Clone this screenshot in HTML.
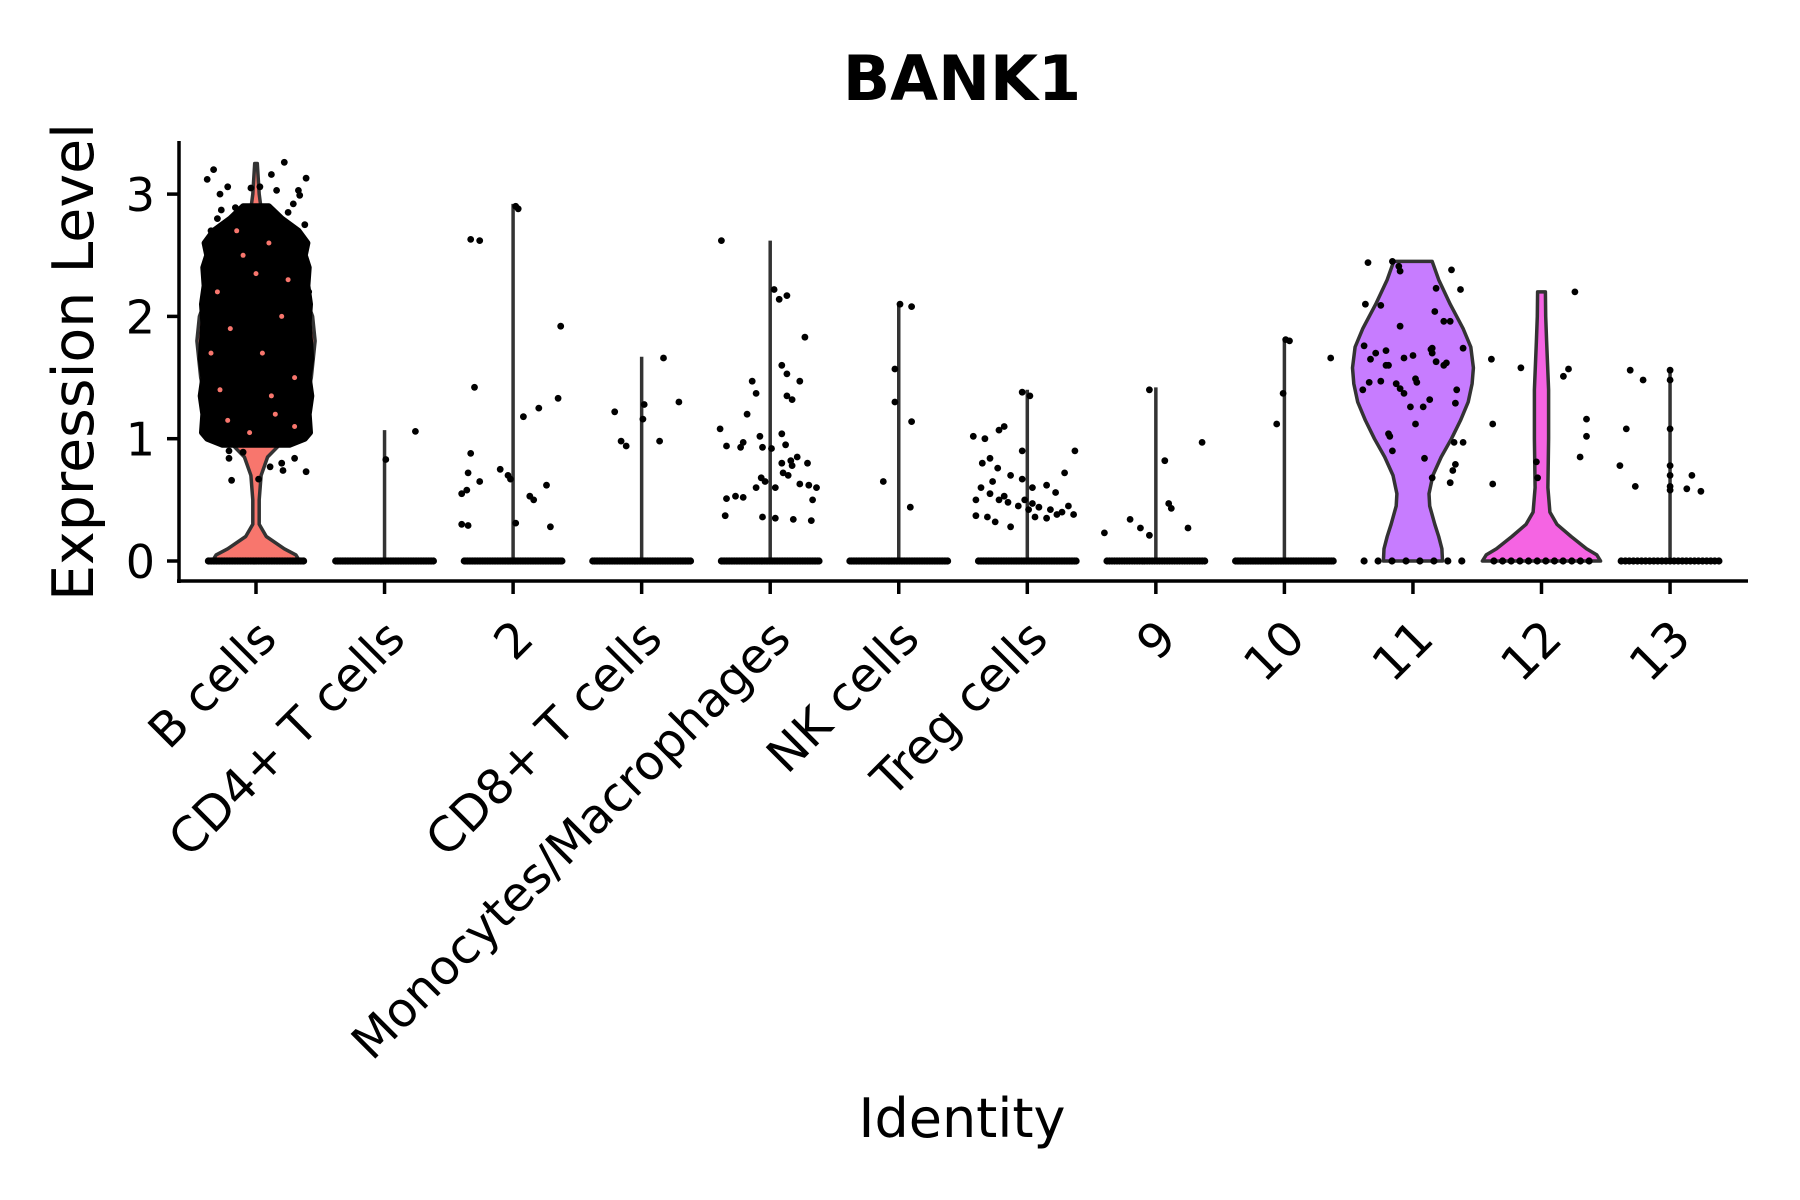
<!DOCTYPE html>
<html><head><meta charset="utf-8">
<style>
html,body{margin:0;padding:0;background:#fff;}
svg{display:block;font-family:"DejaVu Sans","Liberation Sans",sans-serif;}
</style></head>
<body>
<svg id="chart" width="1800" height="1200" viewBox="0 0 1800 1200">
<rect width="1800" height="1200" fill="#fff"/>
<text x="962" y="100" font-size="62" font-weight="bold" text-anchor="middle">BANK1</text>
<text transform="translate(93,362) rotate(-90)" font-size="57" text-anchor="middle">Expression Level</text>
<text x="962" y="1137" font-size="54" text-anchor="middle">Identity</text>
<g id="plot"></g>
</svg>
<script>
const categories = ["B cells","CD4+ T cells","2","CD8+ T cells","Monocytes/Macrophages","NK cells","Treg cells","9","10","11","12","13"];
const yTicks = [0,1,2,3];
const fillColors = ["#F8766D",null,null,null,null,null,null,null,null,"#C77CFF","#F564E3",null];
const lineMax = [3.25,1.07,2.92,1.67,2.62,2.1,1.4,1.42,1.81,2.45,2.2,1.57];
const profB = [[0,0.34],[0.05,0.31],[0.1,0.22],[0.2,0.08],[0.3,0.025],[0.5,0.025],[0.7,0.04],[0.85,0.09],[1.0,0.23],[1.2,0.37],[1.5,0.43],[1.8,0.46],[2.0,0.44],[2.2,0.37],[2.4,0.16],[2.6,0.08],[2.8,0.05],[3.0,0.025],[3.25,0.01]];
const prof11 = [[0,0.23],[0.1,0.225],[0.2,0.2],[0.3,0.17],[0.45,0.13],[0.55,0.125],[0.7,0.155],[0.85,0.22],[1.0,0.3],[1.15,0.37],[1.3,0.43],[1.45,0.46],[1.58,0.47],[1.75,0.45],[1.9,0.39],[2.1,0.29],[2.3,0.2],[2.45,0.15]];
const prof12 = [[0,0.46],[0.05,0.43],[0.1,0.35],[0.2,0.23],[0.3,0.12],[0.4,0.065],[0.6,0.05],[1.0,0.055],[1.4,0.055],[1.8,0.04],[2.0,0.033],[2.2,0.03]];
// dense B-cell point cloud outline: [value, half-width]
const denseB = [[0.95,0.26],[1.0,0.38],[1.05,0.42],[1.2,0.41],[1.35,0.43],[1.5,0.41],[1.65,0.43],[1.8,0.42],[1.95,0.41],[2.1,0.42],[2.25,0.4],[2.4,0.41],[2.5,0.38],[2.6,0.4],[2.7,0.33],[2.8,0.2],[2.9,0.1]];
// salmon gaps visible inside the dense cloud: [jitter, value]
const gapsB = [[-0.3,2.2],[-0.1,2.5],[0.1,2.6],[0.25,2.3],[-0.2,1.9],[0.05,1.7],[0.3,1.5],[-0.28,1.4],[0.15,1.2],[-0.05,1.05],[0.3,1.1],[-0.15,2.7],[0.2,2.0],[-0.35,1.7],[0.0,2.35],[0.12,1.35],[-0.22,1.15]];
const zeroCount = [60,60,60,60,60,60,60,40,60,8,12,25];
const zeroSpread = [0.37,0.38,0.38,0.38,0.38,0.38,0.38,0.38,0.38,0.38,0.37,0.38];
const pts0 = [[-0.33,3.2],[-0.38,3.12],[0.22,3.26],[0.12,3.16],[0.39,3.13],[-0.22,3.06],[-0.28,3.0],[-0.04,3.05],[0.03,3.06],[0.16,3.03],[0.34,2.99],[0.33,3.03],[-0.16,2.89],[-0.27,2.87],[0.29,2.92],[-0.21,0.84],[-0.19,0.66],[0.02,0.67],[0.11,0.77],[0.21,0.74],[0.39,0.73],[0.2,0.8],[0.3,0.84],[-0.21,0.9],[-0.1,0.89],[-0.35,2.7],[0.38,2.75],[-0.37,1.05],[0.36,1.0],[-0.4,2.4],[0.41,2.2],[-0.41,1.3],[0.4,1.6],[-0.3,2.8],[0.25,2.85]];
const pts1 = [[0.01,0.83],[0.24,1.06]];
const pts2 = [[-0.33,2.63],[-0.26,2.62],[0.02,2.9],[0.04,2.88],[-0.3,1.42],[0.37,1.92],[0.08,1.18],[0.2,1.25],[0.35,1.33],[-0.33,0.88],[-0.35,0.72],[-0.26,0.65],[-0.4,0.55],[-0.36,0.58],[-0.04,0.7],[-0.02,0.67],[0.13,0.53],[0.16,0.5],[0.26,0.62],[-0.4,0.3],[-0.35,0.29],[0.02,0.31],[0.29,0.28],[-0.1,0.75]];
const pts3 = [[-0.21,1.22],[-0.16,0.98],[-0.12,0.94],[0.01,1.16],[0.02,1.28],[0.17,1.66],[0.14,0.98],[0.29,1.3]];
const pts4 = [[-0.38,2.62],[0.03,2.22],[0.07,2.14],[0.13,2.17],[0.27,1.83],[0.09,1.6],[0.13,1.53],[0.13,1.35],[0.17,1.32],[0.23,1.47],[-0.14,1.47],[-0.11,1.37],[-0.18,1.2],[-0.39,1.08],[-0.34,0.94],[-0.23,0.93],[-0.21,0.97],[-0.08,1.02],[-0.06,0.93],[0.01,0.92],[0.09,1.04],[0.12,0.95],[0.21,0.85],[0.29,0.8],[0.17,0.78],[0.1,0.72],[0.14,0.7],[0.04,0.6],[-0.04,0.65],[-0.11,0.6],[-0.21,0.52],[-0.27,0.53],[-0.34,0.51],[-0.35,0.37],[-0.06,0.36],[0.04,0.35],[0.18,0.34],[0.32,0.33],[0.33,0.5],[0.36,0.6],[-0.07,0.68],[0.23,0.63],[0.3,0.62],[0.09,0.8],[0.16,0.82]];
const pts5 = [[0.01,2.1],[0.1,2.08],[-0.03,1.57],[-0.03,1.3],[0.1,1.14],[-0.12,0.65],[0.09,0.44]];
const pts6 = [[-0.42,1.02],[-0.33,1.0],[-0.22,1.07],[-0.18,1.1],[-0.04,1.38],[0.02,1.35],[-0.35,0.8],[-0.29,0.84],[-0.23,0.76],[-0.13,0.7],[-0.04,0.67],[0.04,0.6],[0.15,0.62],[0.22,0.56],[0.37,0.9],[0.29,0.72],[-0.36,0.6],[-0.29,0.55],[-0.22,0.5],[-0.15,0.48],[-0.07,0.45],[0.01,0.42],[0.09,0.44],[0.18,0.42],[0.27,0.4],[0.36,0.38],[-0.4,0.37],[-0.31,0.36],[-0.25,0.32],[-0.13,0.28],[-0.02,0.5],[0.06,0.36],[0.15,0.35],[0.23,0.38],[0.32,0.45],[0.04,0.47],[-0.18,0.53],[-0.27,0.65],[-0.04,0.9],[-0.4,0.5]];
const pts7 = [[-0.4,0.23],[-0.2,0.34],[-0.12,0.27],[-0.05,0.21],[-0.05,1.4],[0.07,0.82],[0.1,0.47],[0.12,0.43],[0.36,0.97],[0.25,0.27]];
const pts8 = [[-0.06,1.12],[-0.01,1.37],[0.04,1.8],[0.36,1.66],[0.01,1.81]];
const pts9 = [[-0.35,2.44],[-0.16,2.45],[-0.11,2.41],[-0.1,2.37],[0.3,2.38],[0.37,2.22],[0.18,2.23],[-0.37,2.1],[-0.25,2.09],[0.17,2.04],[0.24,1.96],[0.29,1.96],[-0.1,1.92],[-0.38,1.76],[-0.21,1.72],[-0.29,1.7],[-0.33,1.65],[-0.07,1.66],[0,1.68],[0.14,1.73],[0.15,1.74],[0.15,1.7],[0.18,1.63],[0.26,1.62],[0.24,1.6],[0.39,1.74],[-0.21,1.6],[-0.19,1.6],[-0.34,1.46],[-0.25,1.47],[-0.13,1.45],[-0.1,1.41],[-0.07,1.37],[0.02,1.49],[0.03,1.46],[-0.39,1.4],[0.34,1.4],[0.13,1.32],[-0.02,1.26],[0.08,1.26],[0.33,1.29],[0.02,1.12],[-0.19,1.04],[-0.18,1.02],[-0.16,0.9],[0.09,0.84],[0.32,0.97],[0.39,0.97],[0.33,0.79],[0.31,0.74],[0.15,0.68],[0.29,0.64]];
const pts10 = [[0.26,2.2],[-0.39,1.65],[-0.16,1.58],[0.21,1.57],[0.17,1.51],[0.35,1.16],[0.35,1.02],[-0.38,1.12],[0.3,0.85],[-0.04,0.81],[-0.03,0.68],[-0.38,0.63]];
const pts11 = [[-0.31,1.56],[-0.21,1.48],[0,1.56],[0,1.48],[-0.34,1.08],[0,1.08],[-0.39,0.78],[-0.27,0.61],[0,0.78],[0,0.7],[0,0.61],[0,0.58],[0.17,0.7],[0.13,0.59],[0.24,0.57]];
const points = [pts0,pts1,pts2,pts3,pts4,pts5,pts6,pts7,pts8,pts9,pts10,pts11];

const NS="http://www.w3.org/2000/svg";
const plot=document.getElementById('plot');
const X0=256, BAND=128.55, Y0=561, YU=122.3;
function xs(i){return X0+i*BAND;}
function ys(v){return Y0-v*YU;}
function mk(tag,attrs){const e=document.createElementNS(NS,tag);for(const k in attrs)e.setAttribute(k,attrs[k]);plot.appendChild(e);return e;}
function violinPath(i,prof){
  const c=xs(i);let d='';
  prof.forEach((p,k)=>{d+=(k?'L':'M')+(c+p[1]*BAND).toFixed(1)+','+ys(p[0]).toFixed(1);});
  for(let k=prof.length-1;k>=0;k--){d+='L'+(c-prof[k][1]*BAND).toFixed(1)+','+ys(prof[k][0]).toFixed(1);}
  return d+'Z';
}
const profiles={0:profB,9:prof11,10:prof12};
categories.forEach((cat,i)=>{
  if(profiles[i]){
    const p=mk('path',{d:violinPath(i,profiles[i]),fill:fillColors[i],stroke:'#333',"stroke-width":3.5,"stroke-linejoin":"round"});
    
    
  } else {
    const l=mk('line',{x1:xs(i),x2:xs(i),y1:ys(0),y2:ys(lineMax[i]),stroke:'#333',"stroke-width":3.5});
    
    
  }
});
{
  const p=mk('path',{d:violinPath(0,denseB),fill:'#000',stroke:'#000',"stroke-width":6,"stroke-linejoin":"round"});
  
  
}
gapsB.forEach(g=>{
  const c=mk('circle',{cx:(xs(0)+g[0]*BAND).toFixed(1),cy:ys(g[1]).toFixed(1),r:2.5,fill:'#F8766D'});
  
  
});
categories.forEach((cat,i)=>{
  const n=zeroCount[i],s=zeroSpread[i];
  for(let k=0;k<n;k++){
    const j=-s+2*s*k/(n-1);
    const c=mk('circle',{cx:(xs(i)+j*BAND).toFixed(1),cy:ys(0),r:3.6,fill:'#000'});
    
    
  }
});
points.forEach((arr,i)=>{
  arr.forEach(p=>{
    const c=mk('circle',{cx:(xs(i)+p[0]*BAND).toFixed(1),cy:ys(p[1]).toFixed(1),r:3.4,fill:'#000'});
    
    
  });
});
{
  const ya=mk('line',{x1:179,x2:179,y1:141,y2:583,stroke:'#000',"stroke-width":3.5});
  
  
  const xa=mk('line',{x1:177,x2:1748,y1:581,y2:581,stroke:'#000',"stroke-width":3.5});
  
  
}
yTicks.forEach(v=>{
  const t=mk('line',{x1:167,x2:179,y1:ys(v),y2:ys(v),stroke:'#000',"stroke-width":3.5});
  
  
  const l=mk('text',{x:155,y:ys(v)+17,"font-size":46,"text-anchor":"end"});
  l.textContent=String(v);
  
  
});
categories.forEach((cat,i)=>{
  const t=mk('line',{x1:xs(i),x2:xs(i),y1:581,y2:594,stroke:'#000',"stroke-width":3.5});
  
  
  const ax=xs(i)-2, ay=616;
  const l=mk('text',{x:ax,y:ay,"font-size":48,"text-anchor":"end","dominant-baseline":"hanging",transform:`rotate(-45 ${ax} ${ay})`});
  l.textContent=cat;
  
  
});
</script>
</body></html>
